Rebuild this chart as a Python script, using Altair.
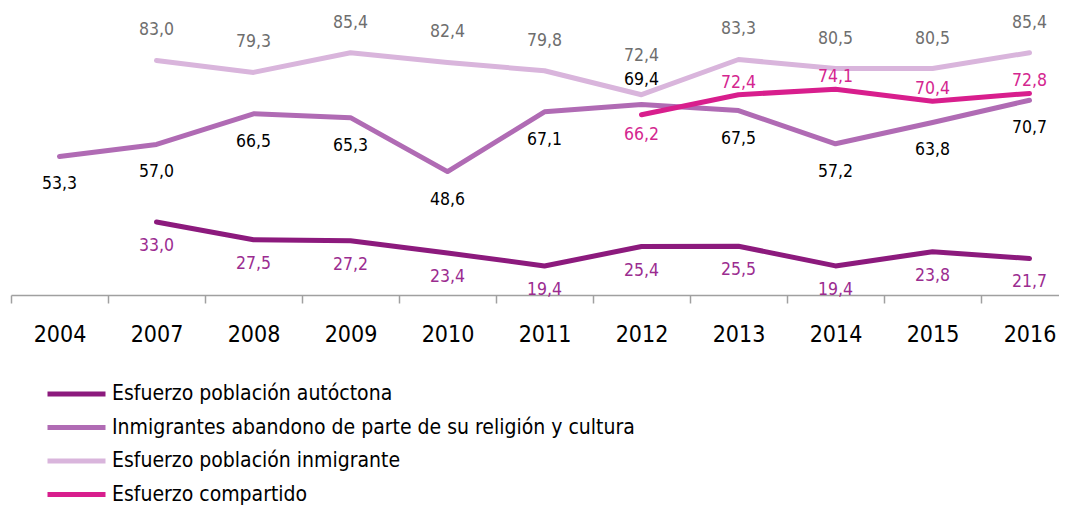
import altair as alt
import pandas as pd

years = ["2004", "2007", "2008", "2009", "2010", "2011", "2012", "2013", "2014", "2015", "2016"]
series_names = [
    "Esfuerzo población autóctona",
    "Inmigrantes abandono de parte de su religión y cultura",
    "Esfuerzo población inmigrante",
    "Esfuerzo compartido",
]
autoctona = [None, 33.0, 27.5, 27.2, 23.4, 19.4, 25.4, 25.5, 19.4, 23.8, 21.7]
abandono = [53.3, 57.0, 66.5, 65.3, 48.6, 67.1, 69.4, 67.5, 57.2, 63.8, 70.7]
inmigrante = [None, 83.0, 79.3, 85.4, 82.4, 79.8, 72.4, 83.3, 80.5, 80.5, 85.4]
compartido = [None, None, None, None, None, None, 66.2, 72.4, 74.1, 70.4, 72.8]

line_colors = ["#8C1A7D", "#B06BB4", "#D9B5DC", "#D81E8D"]
label_colors = ["#9B2C90", "#000000", "#6E6E6E", "#D4268F"]

rows = []
for name, vals in zip(series_names, [autoctona, abandono, inmigrante, compartido]):
    for y, v in zip(years, vals):
        if v is not None:
            rows.append({"year": y, "series": name, "value": v})
df = pd.DataFrame(rows)

FONT = "'DejaVu Sans Condensed', 'Liberation Sans Narrow', 'Arial Narrow', Roboto, sans-serif"

x = alt.X(
    "year:N",
    sort=years,
    scale=alt.Scale(range=[0, 1067], paddingInner=0, paddingOuter=0),
    axis=alt.Axis(
        title=None,
        labelAngle=0,
        tickBand="extent",
        domainColor="#A0A0A0",
        tickColor="#A0A0A0",
        domainWidth=1.5,
        tickWidth=1.5,
        tickSize=8,
        labelFontSize=23,
        labelFont=FONT,
        labelColor="#000000",
        labelPadding=20,
        grid=False,
    ),
)
y = alt.Y("value:Q", scale=alt.Scale(domain=[10.4, 98]), axis=None)

base = alt.Chart(df).transform_calculate(
    label="replace(format(datum.value, '.1f'), '.', ',')"
)

lines = base.mark_line(strokeWidth=5, strokeCap="round", strokeJoin="round").encode(
    x=x,
    y=y,
    color=alt.Color(
        "series:N",
        sort=series_names,
        scale=alt.Scale(domain=series_names, range=line_colors),
        legend=alt.Legend(
            title=None,
            orient="none",
            legendX=34,
            legendY=371,
            direction="vertical",
            symbolType="stroke",
            symbolSize=3364,
            symbolStrokeWidth=5,
            clipHeight=22,
            rowPadding=11.5,
            labelFontSize=21,
            labelFont=FONT,
            labelColor="#000000",
            labelOffset=4,
            labelLimit=800,
            padding=0,
        ),
    ),
    order=alt.Order("series_order:Q"),
).transform_calculate(
    series_order="indexof(" + str(series_names) + ", datum.series)"
)


def labels(name, color, dy, years_filter=None, exclude=False):
    c = base.transform_filter(alt.datum.series == name)
    if years_filter is not None:
        if exclude:
            c = c.transform_filter(~alt.FieldOneOfPredicate(field="year", oneOf=years_filter))
        else:
            c = c.transform_filter(alt.FieldOneOfPredicate(field="year", oneOf=years_filter))
    return c.mark_text(
        fontSize=17.5, font=FONT, color=color, dy=dy, baseline="middle", align="center"
    ).encode(x=x, y=y, text="label:N")


layers = [
    lines,
    labels(series_names[2], label_colors[2], -30, ["2012"], exclude=True),
    labels(series_names[2], label_colors[2], -39, ["2012"]),
    labels(series_names[3], label_colors[3], -12, ["2012"], exclude=True),
    labels(series_names[3], label_colors[3], 20, ["2012"]),
    labels(series_names[1], label_colors[1], 28, ["2012"], exclude=True),
    labels(series_names[1], label_colors[1], -24, ["2012"]),
    labels(series_names[0], label_colors[0], 24),
]

chart = (
    alt.layer(*layers)
    .properties(
        width=1048,
        height=283,
        autosize=alt.AutoSizeParams(type="none"),
        padding={"left": 3, "top": 4, "right": 0, "bottom": 212},
    )
    .configure_view(stroke=None)
)

chart.save("out.html", embed_options={"renderer": "svg", "actions": False})
